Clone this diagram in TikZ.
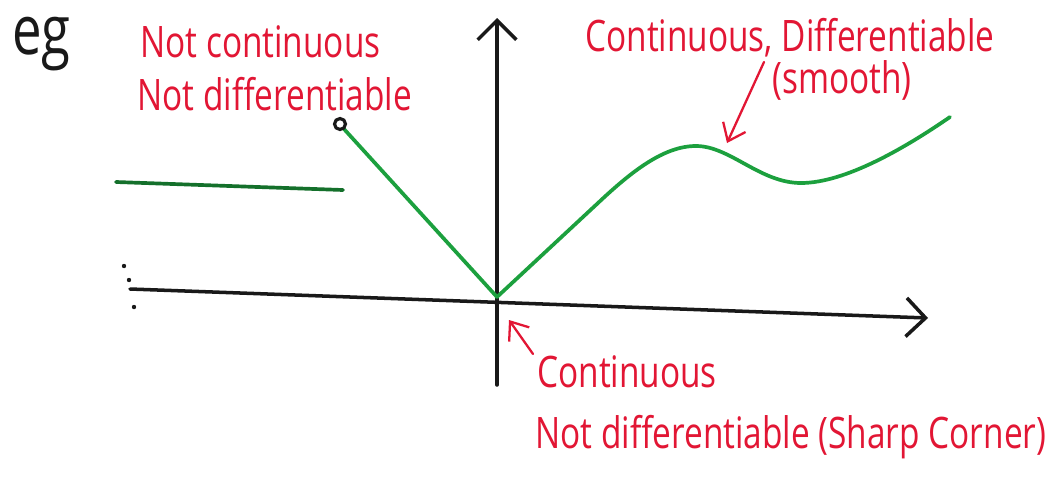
\documentclass[tikz,border=0pt]{standalone}
\usepackage{fontspec}
\setmainfont{Open Sans}
\usetikzlibrary{arrows.meta}
\definecolor{inkred}{RGB}{226,22,52}
\definecolor{inkgreen}{RGB}{28,160,62}
\definecolor{inkdark}{RGB}{25,25,25}
\newcommand{\tall}[1]{\scalebox{1}[1.3]{#1}}
\tikzset{
  rtext/.style={text=inkred, anchor=west, inner sep=0pt, font=\fontsize{19}{22}\selectfont},
  axisline/.style={draw=inkdark, line width=2pt, line cap=round},
  graphline/.style={draw=inkgreen, line width=2.1pt, line cap=round, line join=round},
  redarrow/.style={draw=inkred, line width=1.3pt, line cap=round, -{Straight Barb[length=9pt,width=14pt,line width=1.3pt]}},
  bigtip/.style={-{Straight Barb[length=11pt,width=22pt,line width=2pt]}}
}
\begin{document}
\begin{tikzpicture}[x=0.02cm,y=-0.02cm]
\useasboundingbox (0,0) rectangle (1061,484);
\fill[white] (0,0) rectangle (1061,484);

% axes
\coordinate (xl) at (130,289);
\coordinate (xr) at (928,318);
\coordinate (yb) at (497,385);
\coordinate (yt) at (497,18);
\draw[axisline, bigtip] (xl) -- (xr);
\draw[axisline, bigtip] (yb) -- (yt);

% left dots
\fill[inkdark] (124,266) circle (2.2) (129,280) circle (2.2) (134,307) circle (2.2);

% graph
\coordinate (a1) at (116,182);
\coordinate (a2) at (343,190);
\coordinate (hole) at (340,124);
\coordinate (o) at (497,297);
\coordinate (p1) at (598,203);
\coordinate (peak) at (696,146);
\coordinate (trough) at (801,183);
\coordinate (pend) at (950,117);
\draw[graphline, draw=inkgreen!70!black] (a1) -- (a2);
\draw[graphline] (hole) ++(4,5) -- (o);
\draw[graphline] (o) -- (p1) .. controls (632,171) and (664,146) .. (peak)
  .. controls (730,146) and (760,183) .. (trough)
  .. controls (845,183) and (905,148) .. (pend);
\draw[draw=inkdark, line width=1.8pt, fill=white] (hole) circle (5.5);

% labels
\node[anchor=west, inner sep=0pt, text=inkdark, font=\fontsize{30}{34}\selectfont] (eg) at (12,44) {\tall{eg}};
\node[rtext] (nc1) at (140,42) {\tall{Not continuous}};
\node[rtext] (nc2) at (137,94) {\tall{Not differentiable}};
\node[rtext] (cd1) at (585,38) {\tall{Continuous, Differentiable}};
\node[rtext] (cd2) at (772,80) {\tall{(smooth)}};
\node[rtext] (c1) at (537,372) {\tall{Continuous}};
\node[rtext] (c2) at (535,437) {\tall{Not differentiable (Sharp Corner)}};

% red arrows
\coordinate (s1) at (764,62);
\coordinate (t1) at (727,143);
\draw[redarrow] (s1) -- (t1);
\coordinate (s2) at (533,354);
\coordinate (t2) at (509,320);
\draw[redarrow] (s2) -- (t2);
\end{tikzpicture}
\end{document}
